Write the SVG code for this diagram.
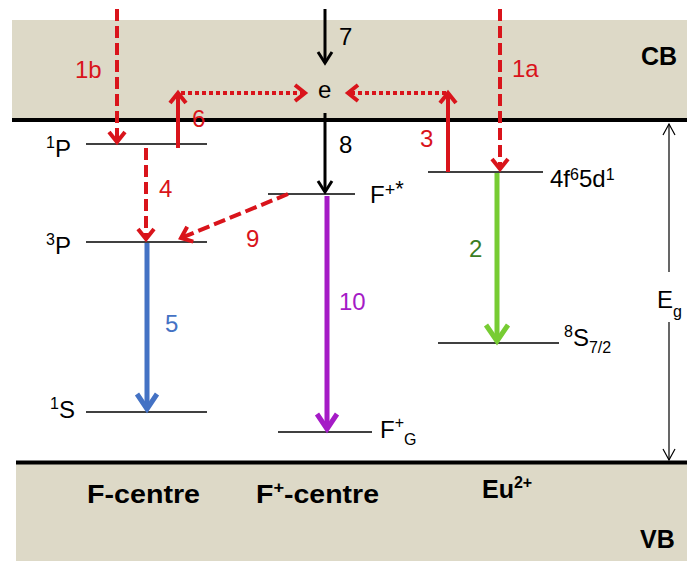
<svg xmlns="http://www.w3.org/2000/svg" width="687" height="561" viewBox="0 0 687 561">
<style>
text{font-family:"Liberation Sans",Arial,sans-serif;fill:#000}
.n{font-size:24px}
.r{fill:#D9141B}
.b{font-weight:bold;font-size:25px}
.lv{stroke:#000;stroke-width:1.3;fill:none}
.band{fill:#DDD9C7}
.edge{stroke:#000;stroke-width:4}
.ar{fill:none;stroke-linecap:butt}
.red{stroke:#D9141B;stroke-width:4}
.dash{stroke-dasharray:12 5}
.dot{stroke-dasharray:4 3}
</style>
<defs>
<marker id="mr" markerUnits="userSpaceOnUse" orient="auto" refX="0" refY="0" markerWidth="30" markerHeight="30" overflow="visible"><path d="M-10,-8 L0,0 L-10,8" fill="none" stroke="#D9141B" stroke-width="4"/></marker>
<marker id="mk" markerUnits="userSpaceOnUse" orient="auto" refX="0" refY="0" markerWidth="30" markerHeight="30" overflow="visible"><path d="M-11,-7 L0,0 L-11,7" fill="none" stroke="#000" stroke-width="3"/></marker>
<marker id="mb" markerUnits="userSpaceOnUse" orient="auto" refX="0" refY="0" markerWidth="30" markerHeight="30" overflow="visible"><path d="M-15,-10 L0,0 L-15,10" fill="none" stroke="#4472C4" stroke-width="5"/></marker>
<marker id="mp" markerUnits="userSpaceOnUse" orient="auto" refX="0" refY="0" markerWidth="30" markerHeight="30" overflow="visible"><path d="M-15,-10 L0,0 L-15,10" fill="none" stroke="#A51BC6" stroke-width="5"/></marker>
<marker id="mg" markerUnits="userSpaceOnUse" orient="auto" refX="0" refY="0" markerWidth="30" markerHeight="30" overflow="visible"><path d="M-16,-11 L0,0 L-16,11" fill="none" stroke="#77CC33" stroke-width="5"/></marker>
<marker id="mt" markerUnits="userSpaceOnUse" orient="auto" refX="0" refY="0" markerWidth="20" markerHeight="20" overflow="visible"><path d="M-11,-6 L0,0 L-11,6" fill="none" stroke="#000" stroke-width="1.2"/></marker>
</defs>

<g id="bands">
<rect class="band" x="12" y="20" width="675" height="100"/>
<line class="edge" x1="12" y1="120" x2="687" y2="120"/>
<rect class="band" x="16" y="462" width="671" height="99"/>
<line class="edge" x1="16" y1="462.5" x2="687" y2="462.5"/>
<text class="b" x="641" y="65">CB</text>
<text class="b" x="640" y="548">VB</text>
<text class="b" x="87" y="503" textLength="113" lengthAdjust="spacingAndGlyphs">F-centre</text>
<text class="b" x="256" y="503" textLength="123" lengthAdjust="spacingAndGlyphs">F<tspan font-size="16" dy="-10">+</tspan><tspan dy="10">-centre</tspan></text>
<text class="b" x="482" y="498">Eu<tspan font-size="16" dy="-10">2+</tspan></text>
</g>

<g id="levels">
<g id="P1"><line class="lv" x1="86" y1="144" x2="207" y2="144"/><text class="n" x="46" y="157" font-size="23"><tspan font-size="16" dy="-9">1</tspan><tspan dy="9">P</tspan></text></g>
<g id="P3"><line class="lv" x1="86" y1="242" x2="207" y2="242"/><text class="n" x="46" y="254" font-size="23"><tspan font-size="16" dy="-9">3</tspan><tspan dy="9">P</tspan></text></g>
<g id="S1"><line class="lv" x1="86" y1="412" x2="207" y2="412"/><text class="n" x="50" y="418" font-size="23"><tspan font-size="16" dy="-9">1</tspan><tspan dy="9">S</tspan></text></g>
<g id="Fstar"><line class="lv" x1="268" y1="194" x2="355" y2="194"/><text class="n" x="370" y="203">F<tspan font-size="18" dy="-7">+</tspan><tspan font-size="22">*</tspan></text></g>
<g id="FG"><line class="lv" x1="278" y1="432" x2="372" y2="432"/><text class="n" x="380" y="438" font-size="22">F<tspan font-size="16" dy="-10">+</tspan><tspan font-size="16" dy="17">G</tspan></text></g>
<g id="Eu5d"><line class="lv" x1="428" y1="172" x2="543" y2="172"/><text class="n" x="550" y="187" font-size="21">4f<tspan font-size="16" dy="-7">6</tspan><tspan dy="7">5d</tspan><tspan font-size="16" dy="-7">1</tspan></text></g>
<g id="Eu8S"><line class="lv" x1="438" y1="343" x2="559" y2="343"/><text class="n" x="564" y="346"><tspan font-size="16" dy="-9">8</tspan><tspan dy="9">S</tspan><tspan font-size="16" dy="7">7/2</tspan></text></g>
<g id="e"><text class="n" x="318" y="98" font-size="25">e</text></g>
<g id="Eg"><text class="n" x="657" y="308">E<tspan font-size="16" dy="9">g</tspan></text></g>
</g>

<g id="connectors">
<line class="ar red dash" x1="117" y1="9" x2="117" y2="142" marker-end="url(#mr)"/>
<line class="ar red dash" x1="146" y1="148" x2="146" y2="239" marker-end="url(#mr)"/>
<line class="ar red" x1="178" y1="148" x2="178" y2="93" marker-end="url(#mr)"/>
<line class="ar red dot" x1="181" y1="93" x2="305" y2="93" marker-end="url(#mr)"/>
<line class="ar red dot" x1="446" y1="93" x2="348" y2="93" marker-end="url(#mr)"/>
<line class="ar red" x1="448" y1="172" x2="448" y2="93" marker-end="url(#mr)"/>
<line class="ar red dash" x1="500" y1="9" x2="500" y2="169" marker-end="url(#mr)"/>
<line class="ar red dash" x1="288" y1="194" x2="181" y2="238" marker-end="url(#mr)"/>
<line class="ar" stroke="#000" stroke-width="3" x1="325" y1="9" x2="325" y2="63" marker-end="url(#mk)"/>
<line class="ar" stroke="#000" stroke-width="3" x1="325" y1="113" x2="325" y2="192" marker-end="url(#mk)"/>
<line class="ar" stroke="#4472C4" stroke-width="5" x1="147" y1="243" x2="147" y2="409" marker-end="url(#mb)"/>
<line class="ar" stroke="#A51BC6" stroke-width="5" x1="327" y1="196" x2="327" y2="429" marker-end="url(#mp)"/>
<line class="ar" stroke="#77CC33" stroke-width="5" x1="497" y1="173" x2="497" y2="341" marker-end="url(#mg)"/>
<line class="ar" stroke="#000" stroke-width="1.2" x1="669" y1="272" x2="669" y2="124" marker-end="url(#mt)"/>
<line class="ar" stroke="#000" stroke-width="1.2" x1="669" y1="322" x2="669" y2="460" marker-end="url(#mt)"/>
<text class="n r" x="75" y="78">1b</text>
<text class="n r" x="512" y="77">1a</text>
<text class="n r" x="192" y="127">6</text>
<text class="n r" x="420" y="147">3</text>
<text class="n r" x="159" y="197">4</text>
<text class="n r" x="246" y="247">9</text>
<text class="n" x="339" y="45">7</text>
<text class="n" x="339" y="153">8</text>
<text class="n" x="165" y="332" style="fill:#4472C4">5</text>
<text class="n" x="339" y="310" style="fill:#A51BC6">10</text>
<text class="n" x="469" y="257" style="fill:#3B7D23">2</text>
</g>
</svg>
